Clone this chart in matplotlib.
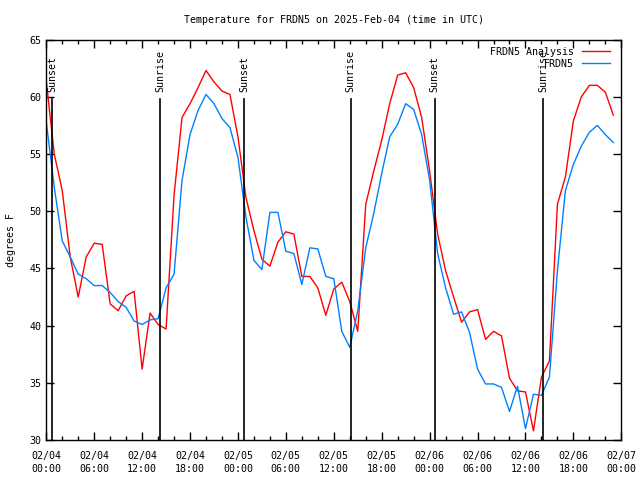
import numpy as np
import matplotlib
matplotlib.use('Agg')
import matplotlib.pyplot as plt
from matplotlib.ticker import MultipleLocator

# hourly values, 02/04 00:00 UTC onward
hours = np.arange(72)

analysis = [61.4, 55.0, 51.8, 46.0, 42.5, 46.0, 47.2, 47.1, 41.9, 41.3,
            42.6, 43.0, 36.2, 41.1, 40.1, 39.7, 51.4, 58.2, 59.4, 60.8,
            62.3, 61.3, 60.5, 60.2, 56.5, 51.2, 48.3, 45.8, 45.2, 47.3,
            48.2, 48.0, 44.3, 44.3, 43.3, 40.9, 43.2, 43.8, 42.1, 39.5,
            50.6, 53.5, 56.2, 59.4, 61.9, 62.1, 60.8, 58.2, 53.5, 48.0,
            44.8, 42.5, 40.3, 41.2, 41.4, 38.8, 39.5, 39.1, 35.4, 34.3,
            34.2, 30.8, 35.5, 36.9, 50.6, 53.0, 57.9, 60.0, 61.0, 61.0,
            60.4, 58.4]

observed = [57.8, 52.1, 47.4, 46.0, 44.5, 44.1, 43.5, 43.5, 42.9, 42.1,
            41.6, 40.4, 40.1, 40.5, 40.6, 43.3, 44.5, 52.7, 56.7, 58.8,
            60.2, 59.4, 58.1, 57.3, 54.7, 49.5, 45.7, 44.9, 49.9, 49.9,
            46.5, 46.3, 43.6, 46.8, 46.7, 44.3, 44.1, 39.5, 38.1, 41.3,
            46.8, 49.8, 53.3, 56.5, 57.6, 59.4, 58.9, 56.7, 52.7, 46.3,
            43.3, 41.0, 41.2, 39.4, 36.2, 34.9, 34.9, 34.6, 32.5, 34.7,
            31.0, 34.0, 33.9, 35.5, 44.8, 51.8, 54.1, 55.7, 56.9, 57.5,
            56.7, 56.0]

sun_events = [0.75, 14.25, 24.77, 38.12, 48.63, 62.18]
sun_labels = ['Sunset', 'Sunrise', 'Sunset', 'Sunrise', 'Sunset', 'Sunrise']

tick_hours = [0, 6, 12, 18, 24, 30, 36, 42, 48, 54, 60, 66, 72]
tick_labels = ['02/04\n00:00', '02/04\n06:00', '02/04\n12:00', '02/04\n18:00',
               '02/05\n00:00', '02/05\n06:00', '02/05\n12:00', '02/05\n18:00',
               '02/06\n00:00', '02/06\n06:00', '02/06\n12:00', '02/06\n18:00',
               '02/07\n00:00']

plt.rcParams['font.family'] = 'DejaVu Sans Mono'
plt.rcParams['font.size'] = 7.2

fig = plt.figure(figsize=(6.4, 4.8), dpi=100)
ax = fig.add_axes([0.0723, 0.0833, 0.8985, 0.8342])

ax.plot(hours, analysis, color='#ff0000', lw=1, label='FRDN5 Analysis')
ax.plot(hours, observed, color='#0080ff', lw=1, label='FRDN5')

for t, lab in zip(sun_events, sun_labels):
    ax.plot([t, t], [30, 59.8], color='black', lw=1.2)
    ax.text(t, 60.4, lab, rotation=90, ha='center', va='bottom')

ax.set_xlim(0, 72)
ax.set_ylim(30, 65)
ax.set_xticks(tick_hours)
ax.set_xticklabels(tick_labels, linespacing=1.3)
ax.xaxis.set_minor_locator(MultipleLocator(2))
ax.yaxis.set_major_locator(MultipleLocator(5))
ax.tick_params(which='both', direction='in', top=True, right=True, width=1)
ax.tick_params(which='major', length=6)
ax.tick_params(which='minor', length=3)
ax.tick_params(axis='x', which='major', pad=8)
for s in ax.spines.values():
    s.set_linewidth(1)

ax.set_ylabel('degrees F', labelpad=10)
ax.set_title('Temperature for FRDN5 on 2025-Feb-04 (time in UTC)',
             fontsize=7.2, pad=12)
ax.legend(loc='upper right', bbox_to_anchor=(0.993, 1.0),
          markerfirst=False, frameon=False,
          handlelength=2.8, labelspacing=0.2, borderaxespad=0.3,
          handletextpad=0.8)

plt.savefig('out.png', dpi=100)
